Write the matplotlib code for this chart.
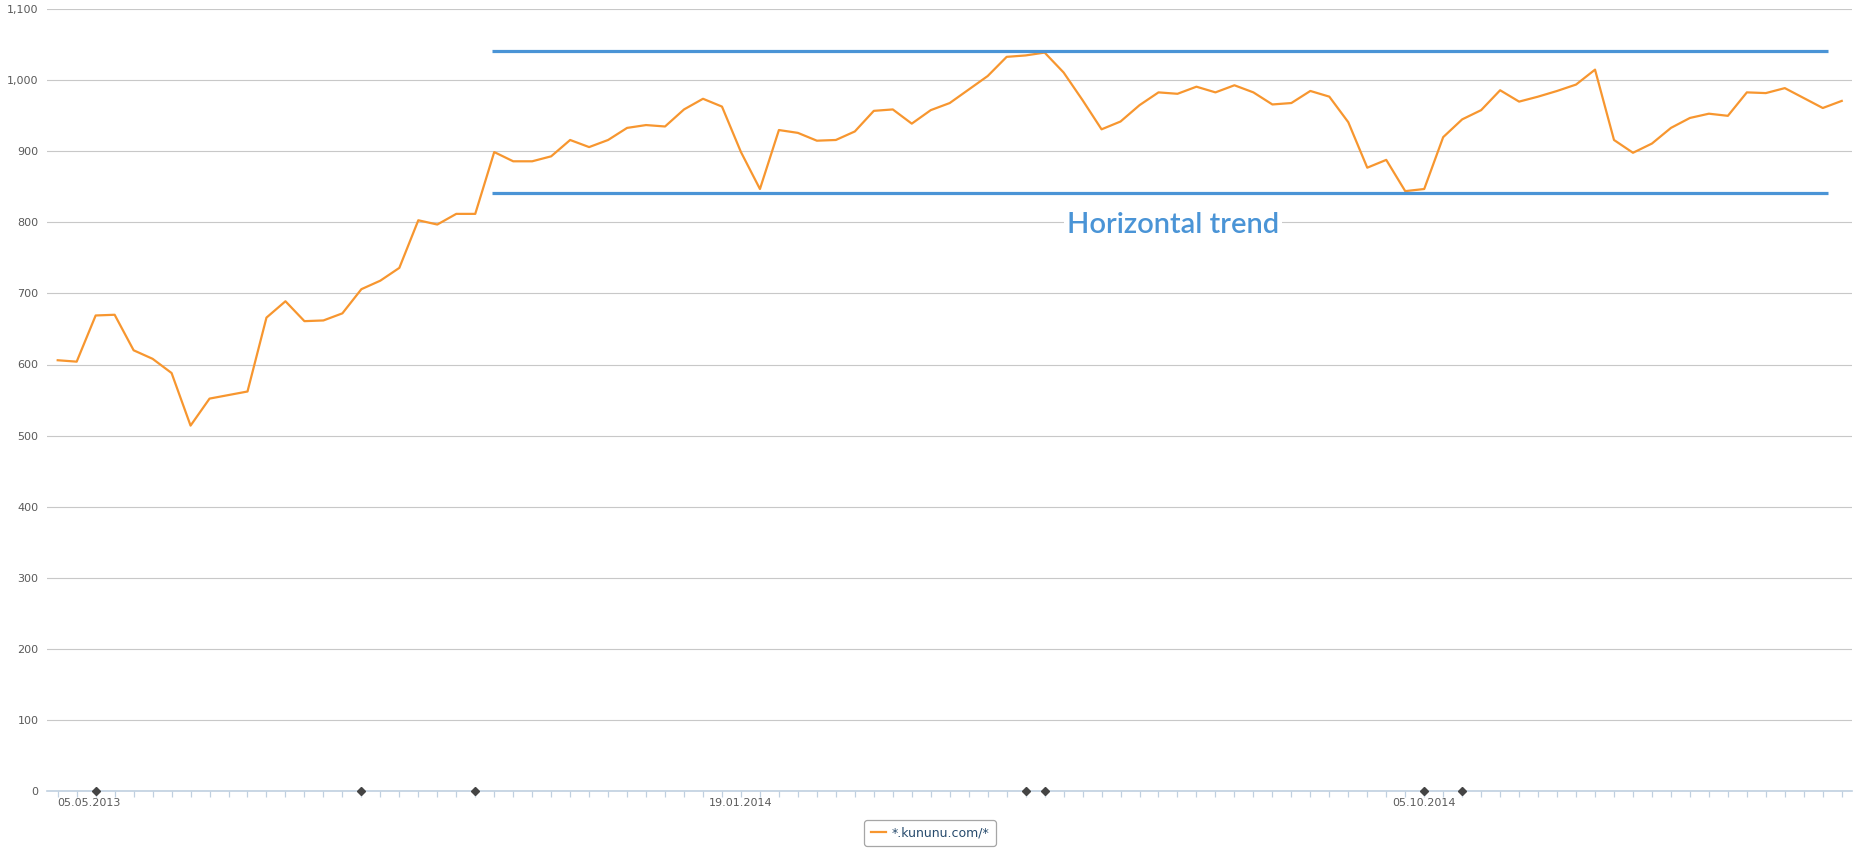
import matplotlib
matplotlib.use("Agg")
import matplotlib.pyplot as plt
from matplotlib.lines import Line2D

# ---- data ----
values = [606, 604, 669, 670, 620, 608, 588, 514, 552, 557, 562, 666, 689, 661, 662, 672,
          706, 718, 736, 803, 797, 812, 812,
          899, 886, 886, 893, 916, 906, 916, 933, 937, 935, 959, 974, 963,
          899, 847, 930, 926, 915, 916, 928, 957,
          959, 939, 958, 968, 987, 1006, 1033, 1035, 1039, 1011, 972, 931, 942, 965, 983, 981,
          991, 983, 993, 983, 966, 968, 985, 977, 941,
          877, 888, 844, 847, 920, 945, 958, 986, 970, 977, 985, 994, 1015, 916, 898, 911,
          933, 947, 953, 950, 983, 982, 989, 975, 961, 971]
label_positions = [0, 36, 72]
tick_labels = ["05.05.2013", "19.01.2014", "05.10.2014"]
flag_positions = [2, 16, 22, 51, 52, 72, 74]
trend_upper = 1041
trend_lower = 841
trend_start = 22.9
trend_end = 93.25
series_name = "*.kununu.com/*"
annotation = "Horizontal trend"
yticks = list(range(0, 1101, 100))

ORANGE = "#F7962F"
BLUE = "#4A94D6"
GRID = "#C8C8C8"
AXIS = "#C0D0E0"
LABEL = "#5a5a5a"

fig = plt.figure(figsize=(18.6, 8.6), dpi=100)
ax = fig.add_axes([47 / 1860, 1 - 790.8 / 860, (1852 - 47) / 1860, (790.8 - 9.25) / 860])

x = list(range(len(values)))
ax.plot(x, values, color=ORANGE, lw=1.6, zorder=3, solid_joinstyle="round")

# trend lines
ax.hlines([trend_upper, trend_lower], trend_start, trend_end, colors=BLUE, lw=2.3, zorder=4)
ax.text((trend_start + trend_end) / 2 + 0.7, 797, annotation, color=BLUE, fontsize=21,
        family=["Lato", "DejaVu Sans"], fontweight="semibold", ha="center", va="center", zorder=5,
        bbox=dict(facecolor="white", edgecolor="none", pad=2))

# flags on the axis
ax.plot(flag_positions, [0] * len(flag_positions), ls="none", marker="D", ms=4.2,
        color="#444444", clip_on=False, zorder=6)

ax.set_xlim(-0.564, 94.54)
ax.set_ylim(0, 1100)

ax.set_yticks(yticks)
ax.set_yticklabels([f"{v:,}" for v in yticks])
ax.yaxis.grid(True, color=GRID, lw=0.8)
ax.set_axisbelow(True)
ax.tick_params(axis="y", length=0, pad=6, labelsize=8, labelcolor=LABEL)

ax.set_xticks(x)
labs = [""] * len(x)
for p, t in zip(label_positions, tick_labels):
    labs[p] = t
ax.set_xticklabels(labs)
ax.tick_params(axis="x", direction="out", length=4, width=0.9, color=AXIS,
               labelsize=8, labelcolor=LABEL, pad=1)
ax.get_xticklabels()[0].set_ha("left")

for s in ["top", "right", "left"]:
    ax.spines[s].set_visible(False)
ax.spines["bottom"].set_color(AXIS)
ax.spines["bottom"].set_linewidth(1.2)

handle = Line2D([], [], color=ORANGE, lw=1.6)
leg = fig.legend([handle], [series_name], loc="center", bbox_to_anchor=(930 / 1860, 1 - 833 / 860),
                 frameon=True, fontsize=9, handlelength=1.2, handletextpad=0.5,
                 borderpad=0.5, fancybox=True)
leg.get_frame().set_edgecolor("#909090")
leg.get_frame().set_linewidth(0.9)
for t in leg.get_texts():
    t.set_color("#274b6d")

fig.savefig("out.png", dpi=100)
